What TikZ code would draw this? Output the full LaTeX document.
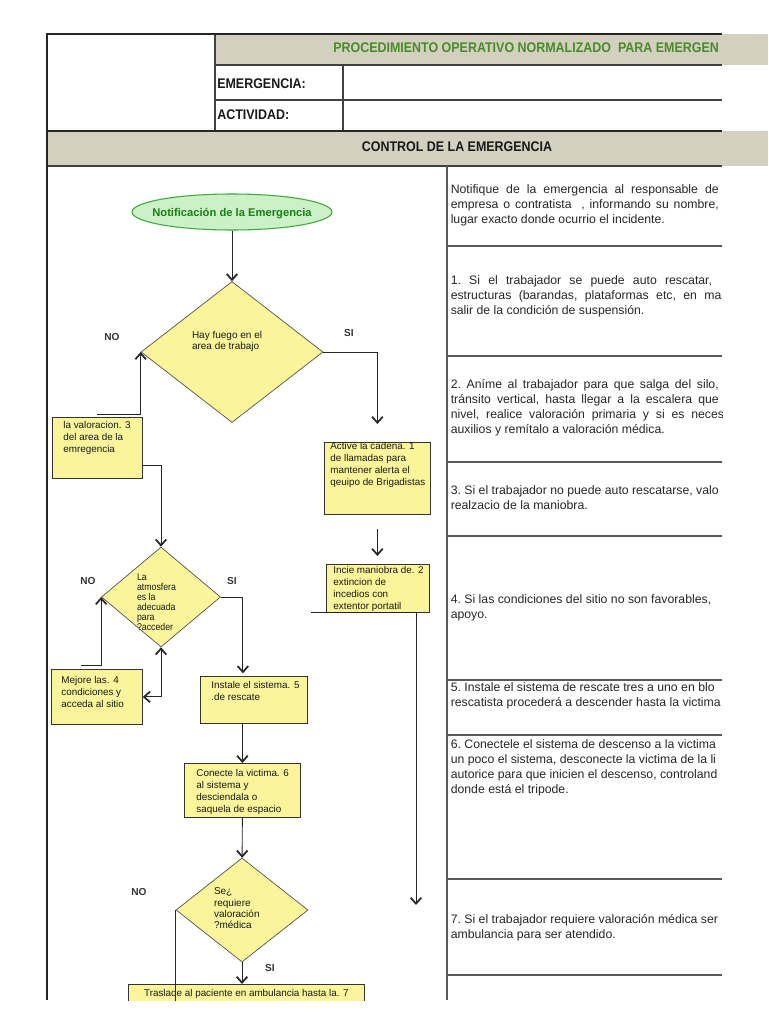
\documentclass[tikz,border=0pt]{standalone}
\usepackage{fontspec}
\setmainfont{Liberation Sans}
\newfontfamily\narrowfont[FakeStretch=0.89]{Liberation Sans}
\usetikzlibrary{shapes.geometric, arrows.meta, positioning}

\definecolor{grisbanda}{RGB}{212,208,192}
\definecolor{verdetitulo}{RGB}{70,140,40}
\definecolor{verdeborde}{RGB}{60,170,60}
\definecolor{verdefondo}{RGB}{204,240,200}
\definecolor{verdetexto}{RGB}{20,130,20}
\definecolor{amarillo}{RGB}{250,245,155}

% texto de las cajas: ancho, alto, margen izq., margen sup., texto
\newcommand{\celda}[5]{\parbox[t][#2][t]{#1}{\raggedright\leftskip=#3\relax\vspace*{#4}#5}}
% texto de los rombos: desplazamiento izq., altura, texto
\newcommand{\textorombo}[3]{\makebox[0pt][l]{\hspace*{#1}\smash{\raisebox{#2}{\parbox[c]{3cm}{\raggedright #3}}}}}
\newcommand{\centrar}[1]{\makebox[0pt]{\smash{\raisebox{-0.5\height}{#1}}}}
\newcommand{\jline}[2][201pt]{\makebox[#1][s]{#2}}

\tikzset{
    >={Straight Barb[length=4.5pt,width=8pt,line width=1.3pt]},
    start/.style={ellipse, draw=verdeborde, fill=verdefondo, line width=0.8pt, minimum width=150pt, minimum height=27pt, inner sep=0pt, font=\fontsize{8.4}{10}\selectfont\bfseries, text=verdetexto},
    process/.style={draw=black!80, fill=amarillo, line width=0.6pt, inner sep=0pt, anchor=north west, font=\fontsize{7.4}{9}\selectfont, text=black!90},
    decision/.style={diamond, draw=black!70, fill=amarillo, line width=0.5pt, inner sep=0pt, font=\fontsize{7.5}{8.6}\selectfont, text=black!90},
    arrow/.style={->, line width=0.7pt, draw=black!85},
    dblarrow/.style={<->, line width=0.7pt, draw=black!85},
    linea/.style={line width=0.7pt, draw=black!85},
    rama/.style={font=\fontsize{7.6}{9}\selectfont\bfseries, text=black!80, inner sep=0pt},
    cabecera/.style={font=\narrowfont\bfseries\fontsize{10.5}{12}\selectfont, inner sep=0pt, text=black!90},
    nota/.style={anchor=north west, inner sep=0pt, align=left, font=\frenchspacing\fontsize{9.2}{11.25}\selectfont, text=black!85},
    borde/.style={line width=1.5pt, draw=black!85},
    fila/.style={line width=0.8pt, draw=black!75},
    separador/.style={line width=1.1pt, draw=black!65}
}

\begin{document}
\begin{tikzpicture}[x=0.75pt, y=-0.75pt]
        \useasboundingbox (0,0) rectangle (768,1024);

        % Bandas grises de la cabecera
        \fill[grisbanda] (215,34) rectangle (768,65);
        \fill[grisbanda] (47,131) rectangle (768,166);

        \begin{scope}
            \clip (47,30) rectangle (722,170);
            \node[cabecera, text=verdetitulo, anchor=west] (titulo) at (333,48) {PROCEDIMIENTO OPERATIVO NORMALIZADO \ PARA EMERGEN};
            \node[cabecera, anchor=west] (emerg) at (217,84) {EMERGENCIA:};
            \node[cabecera, anchor=west] (activ) at (217,115) {ACTIVIDAD:};
            \node[cabecera] (control) at (457,147) {CONTROL DE LA EMERGENCIA};
        \end{scope}

        % Lineas de la tabla
        \draw[fila] (215,65) -- (722,65);
        \draw[fila] (215,100) -- (722,100);
        \draw[fila] (215,34) -- (215,131);
        \draw[fila] (343,65) -- (343,131);
        \draw[fila] (47,166) -- (722,166);
        \draw[borde] (47,34) -- (722,34);
        \draw[borde] (47,131) -- (722,131);
        \draw[borde] (47,33) -- (47,1000);
        \draw[separador] (447,166) -- (447,1000);
        \foreach \y in {246,356,462,536,680,735,879,975}
            \draw[separador] (447,\y) -- (722,\y);

        % Columna de descripciones
        \begin{scope}
            \clip (447,166) rectangle (722,1000);
            \node[nota] (n0) at (450.5,184) {\jline{Notifique de la emergencia al responsable de}\\\jline{empresa o contratista~ , informando su nombre,}\\lugar exacto donde ocurrio el incidente.};
            \node[nota] (n1) at (450.5,275) {\jline[196pt]{1. Si el trabajador se puede auto rescatar,}\\\jline[203pt]{estructuras (barandas, plataformas etc, en ma}\\salir de la condición de suspensión.};
            \node[nota] (n2) at (450.5,379) {\jline{2. Aníme al trabajador para que salga del silo,}\\\jline{tránsito vertical, hasta llegar a la escalera que}\\\jline[205pt]{nivel, realice valoración primaria y si es neces}\\auxilios y remítalo a valoración médica.};
            \node[nota] (n3) at (450.5,485) {3. Si el trabajador no puede auto rescatarse, valo\\realzacio de la maniobra.};
            \node[nota] (n4) at (450.5,594) {4. Si las condiciones del sitio no son favorables,\\apoyo.};
            \node[nota] (n5) at (450.5,682) {5. Instale el sistema de rescate tres a uno en blo\\rescatista procederá a descender hasta la victima};
            \node[nota] (n6) at (450.5,739) {6. Conectele el sistema de descenso a la victima\\un poco el sistema, desconecte la victima de la li\\autorice para que inicien el descenso, controland\\donde está el tripode.};
            \node[nota] (n7) at (450.5,914) {7. Si el trabajador requiere valoración médica ser\\ambulancia para ser atendido.};
        \end{scope}

        % Diagrama de flujo
        \begin{scope}
            \clip (47,166) rectangle (447,1000);

            \node[start] (notif) at (232,212) {\centrar{Notificación de la Emergencia}};
            \node[decision, minimum width=136.5pt, minimum height=105.75pt] (fuego) at (232,352) {\textorombo{-30pt}{6.3pt}{Hay fuego en el\\area de trabajo}};
            \node[process] (valor) at (52,417) {\celda{67.5pt}{45.75pt}{8.25pt}{3pt}{la valoracion. 3\\del area de la\\emregencia}};
            \node[process] (cadena) at (324,442) {\celda{79.5pt}{54pt}{4.5pt}{0pt}{Active la cadena. 1\\de llamadas para\\mantener alerta el\\qeuipo de Brigadistas}};
            \node[process] (incie) at (326,564) {\celda{77.25pt}{36pt}{5.25pt}{1.5pt}{Incie maniobra de. 2\\extincion de\\incedios con\\extentor portatil}};
            \node[decision, minimum width=89.25pt, minimum height=75pt, font=\narrowfont\fontsize{7.4}{7.5}\selectfont] (atmos) at (161,597) {\textorombo{-18pt}{-5.3pt}{La\\atmosfera\\es la\\adecuada\\para\\?acceder}};
            \node[process] (mejore) at (51,669) {\celda{68.25pt}{41.25pt}{7.5pt}{5pt}{Mejore las. 4\\condiciones y\\acceda al sitio}};
            \node[process] (instale) at (200,676) {\celda{80.25pt}{35.25pt}{8.25pt}{3.5pt}{Instale el sistema. 5\\.de rescate}};
            \node[process] (conecte) at (184,763) {\celda{87pt}{40.5pt}{9pt}{4.5pt}{Conecte la victima. 6\\al sistema y\\desciendala o\\saquela de espacio}};
            \node[decision, minimum width=99pt, minimum height=78pt] (medica) at (242,910) {\textorombo{-21pt}{-0.5pt}{Se¿\\requiere\\valoración\\?médica}};
            \node[process] (traslade) at (128,984) {\parbox[t][22.5pt][t]{177pt}{\centering\vspace*{3.5pt}Traslade al paciente en ambulancia hasta la. 7}};

            % Etiquetas de las ramas
            \node[rama] (no1) at (112,337) {NO};
            \node[rama] (si1) at (349,333) {SI};
            \node[rama] (no2) at (88,581) {NO};
            \node[rama] (si2) at (232,581) {SI};
            \node[rama] (no3) at (139,892) {NO};
            \node[rama] (si3) at (270,968) {SI};

            % Conexiones
            \draw[arrow] (notif) -- (fuego);
            \draw[arrow, shorten >=13.5pt] (fuego.east) -| (cadena.north);
            \draw[arrow, shorten <=10.5pt, shorten >=6pt] (cadena.south) -- (cadena.south |- incie.north);
            \coordinate (fin) at (416,905);
            \draw[arrow] ([xshift=-11pt]incie.south west) -| (fin);
            \draw[arrow] ([yshift=2pt]valor.north) -| (fuego.west);
            \draw[arrow] ([yshift=-13pt]valor.east) -| (atmos.north);
            \draw[arrow, shorten >=2pt] (atmos.east) -| ([xshift=-8.25pt]instale.north);
            \draw[arrow] (instale.south -| conecte.north) -- (conecte.north);
            \draw[arrow] (conecte) -- (medica);
            \draw[dblarrow] (mejore.east) -| (atmos.south);
            \draw[arrow] ([xshift=-12pt,yshift=3pt]mejore.north) -| (atmos.west);
            \draw[arrow] (medica.south) -- (medica.south |- traslade.north);
            \draw[linea] (medica.west) -- (medica.west |- traslade.south);
        \end{scope}

    \end{tikzpicture}
\end{document}
